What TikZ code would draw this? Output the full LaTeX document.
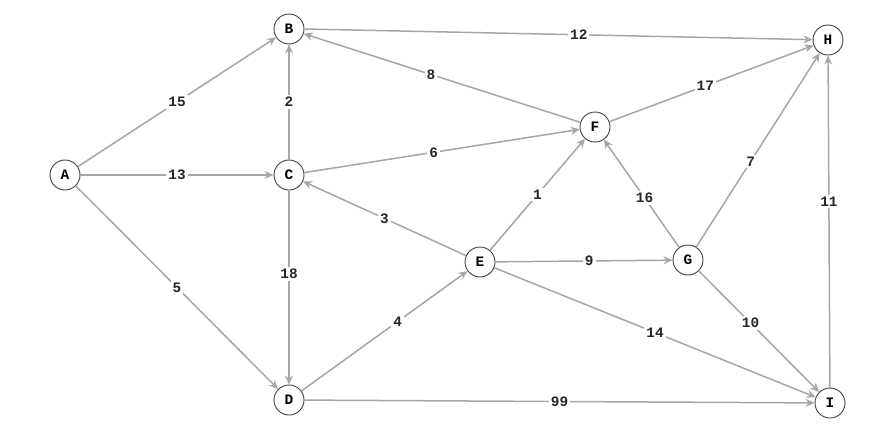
\documentclass[tikz,border=0pt]{standalone}
\usepackage{fontspec}
\setmonofont{Liberation Mono}
\usetikzlibrary{arrows.meta}
\begin{document}
\begin{tikzpicture}[x=1pt,y=-1pt,
  vtx/.style={circle,draw=black!75,fill=white,line width=0.9pt,minimum size=30pt,inner sep=0pt,font=\ttfamily\bfseries\Large},
  edge/.style={draw=black!35,line width=1.5pt,-{Stealth[length=9pt,width=8pt]}},
  lab/.style={fill=white,inner sep=2pt,font=\ttfamily\bfseries\Large,text=black!85}]
\useasboundingbox (0,0) rectangle (886,442);
\node[vtx] (A) at (65,175) {A};
\node[vtx] (B) at (289,29) {B};
\node[vtx] (C) at (289,175) {C};
\node[vtx] (D) at (289,400) {D};
\node[vtx] (E) at (480,262) {E};
\node[vtx] (F) at (595,127) {F};
\node[vtx] (G) at (688,260) {G};
\node[vtx] (H) at (828,40) {H};
\node[vtx] (I) at (830,403) {I};
\path[edge] (A) -- node[lab]{15} (B);
\path[edge] (A) -- node[lab]{13} (C);
\path[edge] (A) -- node[lab]{5} (D);
\path[edge] (C) -- node[lab]{2} (B);
\path[edge] (C) -- node[lab,pos=0.47]{6} (F);
\path[edge] (C) -- node[lab,pos=0.43]{18} (D);
\path[edge] (B.east) -- node[lab,pos=0.54]{12} (H);
\path[edge] (F) -- node[lab,pos=0.54]{8} (B);
\path[edge] (F) -- node[lab,pos=0.47]{17} (H);
\path[edge] (E) -- node[lab]{3} (C);
\path[edge] (E) -- node[lab]{1} (F);
\path[edge] (E) -- node[lab,pos=0.53]{9} (G);
\path[edge] (E) -- node[lab]{14} (I);
\path[edge] (D) -- node[lab,pos=0.58]{4} (E);
\path[edge] (D) -- node[lab]{99} (I);
\path[edge] (G) -- node[lab,pos=0.46]{16} (F);
\path[edge] (G) -- node[lab,pos=0.44]{7} (H);
\path[edge] (G) -- node[lab,pos=0.43]{10} (I);
\path[edge] (I) -- node[lab,pos=0.56]{11} (H);
\end{tikzpicture}
\end{document}
